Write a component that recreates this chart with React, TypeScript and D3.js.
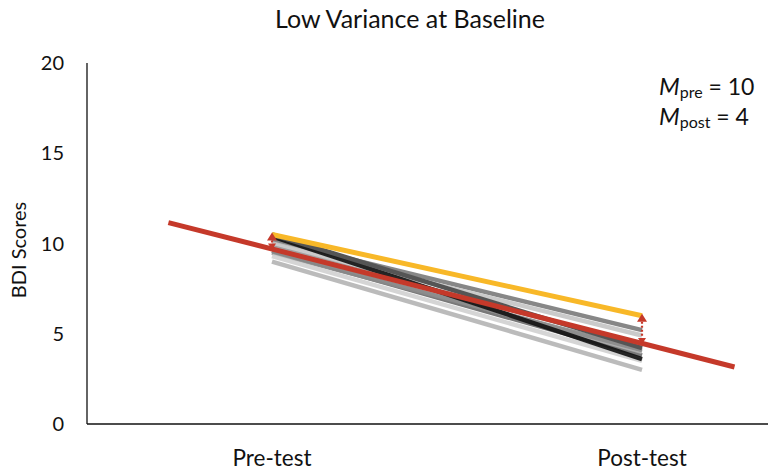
import React from "react";
import * as d3 from "d3";

const categories = ["Pre-test", "Post-test"];
const yTicks = [0, 5, 10, 15, 20];

// individual participant lines: [pre, post]
const grayPre = [10.2, 10.0, 9.8, 9.6, 9.7, 9.5, 9.3, 9.0, 10.4];
const grayPost = [5.2, 4.9, 4.4, 3.8, 4.0, 4.1, 3.5, 3.0, 3.6];
const grayColors = ["#7a7a7a", "#c4c4c4", "#9a9a9a", "#6a6a6a", "#b0b0b0", "#8a8a8a", "#d0d0d0", "#b4b4b4", "#111111"];

const darkPre = 10.5;
const darkPost = 4.2;

const highlightPre = 10.5;
const highlightPost = 6.0;

// regression line endpoints (x in category units, 1 = pre, 2 = post)
const regX = [0.72, 2.25];
const regY = [11.16, 3.16];
const regAtPre = 9.7;
const regAtPost = 4.47;

const W = 768;
const H = 473;

export default function App() {
  const x = d3.scaleLinear().domain([0.5, 2.5]).range([87, 827]);
  const y = d3.scaleLinear().domain([0, 20]).range([424, 63]);
  const line = d3
    .line<[number, number]>()
    .x((d) => x(d[0]))
    .y((d) => y(d[1]));

  const red = "#c5392a";
  const yellow = "#f8b828";
  const font = "Lato, 'Open Sans', sans-serif";

  const arrowTri = (cx: number, cy: number, dir: number, s = 5) =>
    `M${cx},${cy} L${cx - s},${cy + dir * s * 1.6} L${cx + s},${cy + dir * s * 1.6} Z`;

  return (
    <svg
      width={W}
      height={H}
      style={{ position: "absolute", left: 0, top: 0, background: "#fff" }}
      fontFamily={font}
    >
      <text x={410} y={28} textAnchor="middle" fontSize={25} fill="#111">
        Low Variance at Baseline
      </text>

      {/* axes */}
      <line x1={x(0.5)} x2={x(0.5)} y1={y(20)} y2={y(0)} stroke="#111" strokeWidth={1.3} />
      <line x1={x(0.5)} x2={W} y1={y(0)} y2={y(0)} stroke="#111" strokeWidth={1.3} />

      {yTicks.map((t) => (
        <text key={t} x={64} y={y(t) + 7} textAnchor="end" fontSize={20} fill="#111">
          {t}
        </text>
      ))}
      <text
        transform={`translate(26,250) rotate(-90)`}
        textAnchor="middle"
        fontSize={20}
        fill="#111"
      >
        BDI Scores
      </text>

      {categories.map((c, i) => (
        <text key={c} x={x(i + 1)} y={466} textAnchor="middle" fontSize={22.5} fill="#111">
          {c}
        </text>
      ))}

      {/* participant lines */}
      {grayPre.map((p, i) => (
        <path
          key={i}
          d={line([
            [1, p],
            [2, grayPost[i]],
          ])!}
          stroke={grayColors[i]}
          strokeWidth={4.5}
          fill="none"
          opacity={0.9}
        />
      ))}
      <path
        d={line([
          [1, darkPre],
          [2, darkPost],
        ])!}
        stroke="#555"
        strokeWidth={4.5}
        fill="none"
      />
      <path
        d={line([
          [1, highlightPre],
          [2, highlightPost],
        ])!}
        stroke={yellow}
        strokeWidth={5}
        fill="none"
      />

      {/* regression line */}
      <path
        d={line([
          [regX[0], regY[0]],
          [regX[1], regY[1]],
        ])!}
        stroke={red}
        strokeWidth={5}
        fill="none"
      />

      {/* residual arrows */}
      {[
        [1, highlightPre, regAtPre],
        [2, highlightPost, regAtPost],
      ].map(([cx, top, bot], i) => (
        <g key={i}>
          <line
            x1={x(cx)}
            x2={x(cx)}
            y1={y(top) + 6}
            y2={y(bot) - 6}
            stroke={red}
            strokeWidth={2.2}
            strokeDasharray="2,2"
          />
          <path d={arrowTri(x(cx), y(top) - 2, 1)} fill={red} />
          <path d={arrowTri(x(cx), y(bot) + 1, -1, 4)} fill={red} />
        </g>
      ))}

      {/* means annotation */}
      <text x={659} y={95} fontSize={23} fill="#111">
        <tspan fontStyle="italic" fontSize={24}>M</tspan>
        <tspan fontSize={16} dy={3}>pre</tspan>
        <tspan dy={-3}> = 10</tspan>
      </text>
      <text x={659} y={125} fontSize={23} fill="#111">
        <tspan fontStyle="italic" fontSize={24}>M</tspan>
        <tspan fontSize={16} dy={3}>post</tspan>
        <tspan dy={-3}> = 4</tspan>
      </text>
    </svg>
  );
}
